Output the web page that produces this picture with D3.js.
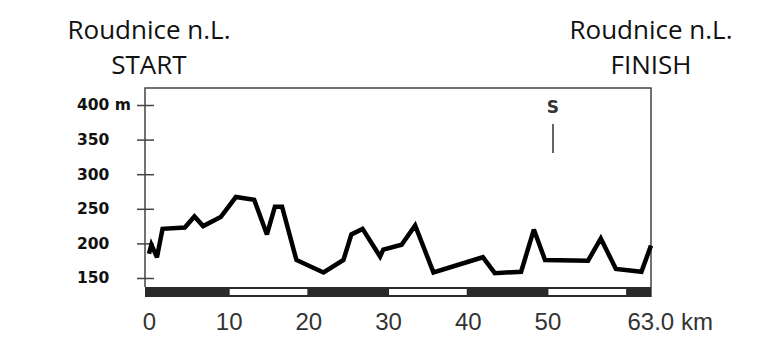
<!DOCTYPE html>
<html>
<head>
<meta charset="utf-8">
<script src="https://cdn.jsdelivr.net/npm/d3@7"></script>
<style>
	html, body { margin: 0; padding: 0; background: #fff; }
	svg { display: block; }
</style>
</head>
<body>
<script>
'use strict';

// Stage profile Roudnice n.L. - Roudnice n.L., 63.0 km
const distanceKm = [0, 0.3, 1.0, 1.7, 4.5, 5.7, 6.8, 9.0, 10.9, 13.2, 14.8, 15.8, 16.7, 18.5, 21.9, 24.4, 25.4, 26.8, 29.0, 29.4, 31.7, 33.4, 35.7, 41.9, 43.4, 46.7, 48.3, 49.7, 55.1, 56.7, 58.6, 61.8, 63.0];
const elevationM = [185, 198, 180, 221, 223, 239, 225, 238, 267, 263, 213, 253, 253, 176, 158, 176, 213, 221, 181, 191, 198, 226, 158, 180, 157, 159, 220, 176, 175, 207, 163, 159, 197];

const elevTicks = [150, 200, 250, 300, 350, 400];
const kmTicks = [0, 10, 20, 30, 40, 50, 63];
const totalKm = 63;

const sprints = [{ km: 50.7, label: "S" }];
const startLabel = ["Roudnice n.L.", "START"];
const finishLabel = ["Roudnice n.L.", "FINISH"];

const params = {
	width: 763,
	height: 348,
	axisX: 145,
	top: 88,
	barTop: 287,
	barBottom: 297,
	xRange: [149, 651],
	yRange: [278, 105]
};

const makeContainer = (params) => {
	return d3.select("body")
		.append("svg")
		.attr("width", params.width)
		.attr("height", params.height)
}

const makeScales = (params) => {
	const xScale = d3.scaleLinear()
		.domain([0, totalKm])
		.range(params.xRange)

	const yScale = d3.scaleLinear()
		.domain([150, 400])
		.range(params.yRange)

	return [xScale, yScale];
}

const addTitles = (svg, xScale) => {
	const place = (lines, km) => {
		const t = svg.append("text")
			.attr("text-anchor", "middle")
			.attr("font-family", "'Open Sans', sans-serif")
			.attr("font-size", 26)
			.attr("fill", "#111")
		lines.forEach((s, i) => {
			t.append("tspan")
				.attr("x", xScale(km))
				.attr("y", 39 + i * 35)
				.text(s)
		})
	}
	place(startLabel, 0)
	place(finishLabel, totalKm)
}

const addFrame = (svg, xScale, params) => {
	// top and right border, y axis line
	svg.append("path")
		.attr("d", `M${params.axisX},${params.barTop}V${params.top}H${xScale(totalKm)}V${params.barBottom}`)
		.attr("fill", "none")
		.attr("stroke", "#444")
		.attr("stroke-width", 1.5)
}

const addYAxis = (svg, yScale, params) => {
	const g = svg.append("g")
		.attr("transform", `translate(${params.axisX},0)`)
		.call(d3.axisLeft(yScale)
			.tickValues(elevTicks)
			.tickFormat(d => d === 400 ? `${d} m` : d))

	g.select(".domain").remove()
	g.selectAll(".tick line")
		.attr("x1", -8)
		.attr("x2", 9)
		.attr("stroke", "#444")
		.attr("stroke-width", 1.5)
	g.selectAll(".tick text")
		.attr("x", -68)
		.attr("text-anchor", "start")
		.attr("font-family", "'DejaVu Sans', sans-serif")
		.attr("font-weight", "bold")
		.attr("font-size", 15.5)
		.attr("fill", "#111")
}

const addDistanceBar = (svg, xScale, params) => {
	svg.append("rect")
		.attr("x", params.axisX)
		.attr("y", params.barTop)
		.attr("width", xScale(totalKm) - params.axisX)
		.attr("height", params.barBottom - params.barTop)
		.attr("fill", "#2a2a2a")

	const whites = d3.range(10, totalKm, 20).filter(k => k + 10 <= totalKm)
	svg.selectAll("rect.white")
		.data(whites)
		.join("rect")
		.attr("class", "white")
		.attr("x", d => xScale(d) + 1)
		.attr("y", params.barTop + 2)
		.attr("width", d => xScale(d + 10) - xScale(d) - 2)
		.attr("height", params.barBottom - params.barTop - 4)
		.attr("fill", "#fff")

	const g = svg.append("g")
		.attr("transform", `translate(0,${params.barBottom})`)
		.call(d3.axisBottom(xScale)
			.tickValues(kmTicks)
			.tickSize(0)
			.tickFormat(d => d === totalKm ? `${d.toFixed(1)} km` : d))

	g.select(".domain").remove()
	g.selectAll(".tick text")
		.attr("y", 0)
		.attr("dy", 33)
		.attr("font-family", "'Liberation Sans', Arial, sans-serif")
		.attr("font-size", 24)
		.attr("fill", "#333")
		.filter(d => d === totalKm)
		.attr("text-anchor", "start")
		.attr("dx", -24)
}

const addProfile = (svg, xScale, yScale) => {
	const data = distanceKm.map((km, i) => ({ km, elev: elevationM[i] }))
	const line = d3.line()
		.x(d => xScale(d.km))
		.y(d => yScale(d.elev))

	svg.append("path")
		.datum(data)
		.attr("d", line)
		.attr("fill", "none")
		.attr("stroke", "#000")
		.attr("stroke-width", 4.5)
		.attr("stroke-linejoin", "miter")
		.attr("stroke-miterlimit", 3)
}

const addSprints = (svg, xScale) => {
	const g = svg.selectAll("g.sprint")
		.data(sprints)
		.join("g")
		.attr("class", "sprint")
		.attr("transform", d => `translate(${xScale(d.km)},0)`)
	g.append("text")
		.attr("y", 113)
		.attr("text-anchor", "middle")
		.attr("font-family", "'DejaVu Sans', sans-serif")
		.attr("font-weight", "bold")
		.attr("font-size", 17)
		.attr("fill", "#333")
		.text(d => d.label)
	g.append("line")
		.attr("y1", 124)
		.attr("y2", 153)
		.attr("stroke", "#333")
		.attr("stroke-width", 1.5)
}

const svg = makeContainer(params)
const [xScale, yScale] = makeScales(params)
addTitles(svg, xScale)
addFrame(svg, xScale, params)
addYAxis(svg, yScale, params)
addProfile(svg, xScale, yScale)
addDistanceBar(svg, xScale, params)
addSprints(svg, xScale)
</script>
</body>
</html>
